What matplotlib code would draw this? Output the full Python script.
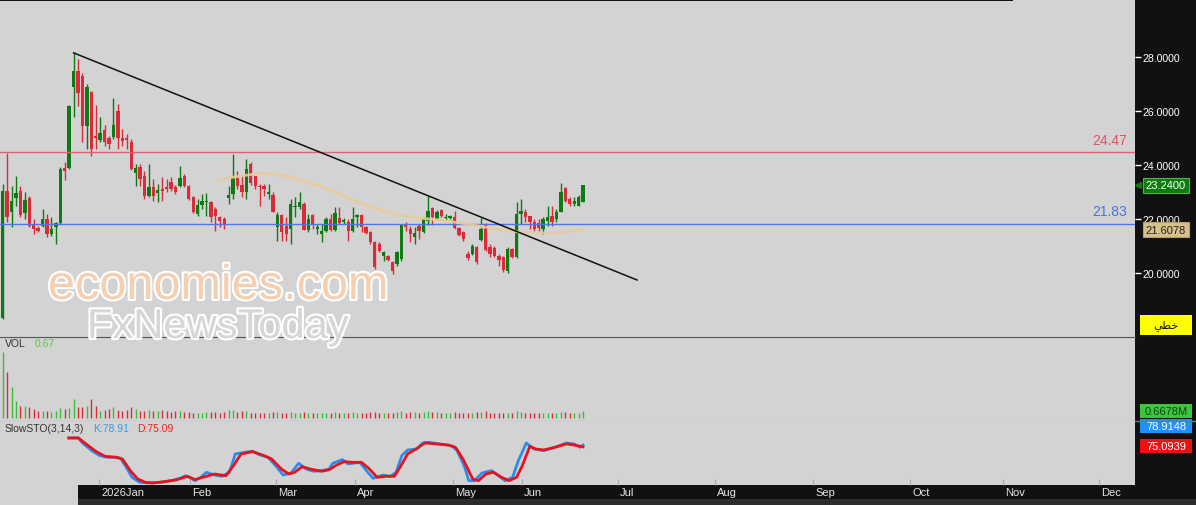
import numpy as np
import matplotlib
matplotlib.use('Agg')
import matplotlib.pyplot as plt
from matplotlib.patches import Rectangle
from matplotlib.transforms import blended_transform_factory
import matplotlib.patheffects as pe

plt.rcParams['font.family'] = ['Liberation Sans', 'DejaVu Sans']

W, H = 1196, 506

# daily candles
opens = [18.35, 23.04, 22.26, 22.78, 23.04, 22.22, 22.78, 21.78, 21.67, 21.74,
         22.00, 21.44, 21.70, 21.85, 23.89, 23.89, 26.89, 27.48, 27.30, 25.44,
         26.70, 25.07, 24.93, 25.30, 25.00, 25.04, 26.00, 25.00, 25.00, 24.85,
         23.70, 23.93, 23.59, 22.85, 23.19, 22.96, 23.11, 23.19, 23.37, 23.19,
         23.22, 23.59, 23.22, 22.81, 22.19, 22.52, 22.63, 22.63, 22.37, 22.07,
         22.00, 22.78, 22.93, 23.52, 23.26, 23.00, 24.04, 23.59, 23.22, 23.22,
         22.93, 22.89, 21.70, 22.15, 21.74, 21.63, 22.44, 22.44, 22.56, 21.59,
         22.15, 21.63, 21.44, 21.56, 22.00, 21.59, 22.04, 21.89, 21.89, 21.56,
         22.07, 22.15, 21.70, 21.52, 21.15, 21.07, 20.63, 20.63, 20.41, 20.33,
         20.52, 21.81, 21.63, 21.33, 21.74, 21.52, 21.93, 22.41, 22.00, 22.33,
         22.04, 22.04, 22.07, 21.67, 21.52, 20.70, 20.70, 20.96, 21.22, 21.81,
         20.96, 20.93, 20.63, 20.59, 20.07, 20.89, 20.59, 22.19, 22.26, 22.11,
         21.89, 21.85, 21.63, 21.93, 22.11, 22.00, 22.26, 23.15, 22.74, 22.56,
         22.48, 22.63]
highs = [23.30, 24.44, 23.22, 23.59, 23.22, 23.00, 22.85, 22.00, 21.74, 22.37,
         22.19, 22.07, 21.89, 23.93, 24.11, 26.22, 28.19, 27.93, 27.40, 27.00,
         26.74, 26.22, 25.78, 25.48, 25.07, 26.48, 26.26, 25.33, 25.15, 24.96,
         24.04, 24.04, 23.78, 24.04, 23.48, 23.30, 23.56, 23.48, 23.56, 23.26,
         23.96, 23.67, 23.26, 22.85, 22.74, 22.93, 22.96, 22.67, 22.44, 22.11,
         22.07, 23.22, 24.41, 23.78, 23.59, 24.22, 24.11, 23.59, 23.30, 23.30,
         23.30, 23.00, 22.26, 22.19, 22.07, 22.74, 22.81, 23.00, 22.63, 22.19,
         22.19, 21.81, 21.81, 22.07, 22.19, 22.44, 22.44, 22.04, 22.00, 22.44,
         22.19, 22.19, 21.74, 21.56, 21.19, 21.15, 20.81, 20.67, 20.44, 20.81,
         21.81, 21.89, 21.74, 21.70, 21.81, 22.07, 22.85, 22.44, 22.33, 22.37,
         22.19, 22.15, 22.30, 21.70, 21.56, 20.81, 21.07, 21.00, 22.04, 21.85,
         21.07, 21.00, 20.70, 20.63, 20.96, 20.93, 22.63, 22.74, 22.37, 22.11,
         22.00, 22.00, 22.07, 22.48, 22.48, 22.37, 23.33, 23.19, 22.81, 22.81,
         22.89, 23.24]
lows = [18.30, 21.89, 21.70, 22.48, 22.07, 22.00, 21.70, 21.44, 21.52, 21.70,
        21.33, 21.37, 21.07, 21.81, 23.44, 23.85, 25.78, 26.19, 24.85, 24.59,
        24.33, 24.59, 24.85, 24.70, 24.59, 24.96, 24.59, 24.70, 24.59, 23.81,
        23.22, 23.22, 22.74, 22.81, 22.67, 22.63, 22.67, 23.00, 23.04, 22.93,
        23.19, 23.19, 22.70, 22.22, 22.11, 22.37, 22.11, 21.89, 21.56, 21.70,
        21.63, 22.56, 22.74, 23.11, 22.81, 22.74, 23.26, 23.11, 22.48, 22.85,
        22.74, 22.26, 21.19, 21.19, 21.19, 21.07, 22.07, 22.37, 21.59, 21.52,
        21.63, 21.44, 21.15, 21.52, 21.56, 21.56, 21.81, 21.81, 21.19, 21.52,
        21.70, 21.52, 21.44, 21.07, 20.15, 20.78, 20.44, 20.44, 19.96, 20.26,
        20.44, 21.56, 21.15, 21.07, 21.26, 21.48, 21.78, 21.78, 21.96, 22.07,
        21.96, 22.00, 21.63, 21.37, 21.19, 20.48, 20.67, 20.33, 21.19, 20.81,
        20.59, 20.59, 20.26, 20.04, 20.00, 20.56, 20.56, 21.81, 21.89, 21.63,
        21.52, 21.56, 21.44, 21.74, 21.74, 21.89, 22.26, 22.63, 22.48, 22.48,
        22.48, 22.63]
closes = [23.05, 22.07, 22.67, 22.96, 22.15, 22.70, 21.74, 21.63, 21.56, 22.00,
          21.44, 21.63, 21.85, 23.85, 23.78, 26.19, 27.48, 26.67, 25.44, 26.89,
          24.59, 25.00, 25.19, 24.85, 24.78, 25.48, 25.00, 24.89, 24.93, 23.85,
          23.89, 23.48, 22.85, 23.19, 22.85, 23.07, 23.04, 23.11, 23.11, 23.00,
          23.52, 23.22, 22.74, 22.26, 22.52, 22.67, 22.67, 22.07, 22.11, 21.93,
          21.81, 22.89, 23.56, 23.22, 23.00, 23.85, 23.33, 23.22, 23.19, 23.11,
          23.00, 22.26, 22.15, 21.52, 21.44, 22.56, 22.48, 22.63, 21.59, 22.00,
          21.81, 21.70, 21.56, 22.00, 21.59, 22.22, 21.85, 21.96, 21.56, 22.00,
          22.15, 21.70, 21.48, 21.15, 20.22, 20.81, 20.78, 20.48, 20.07, 20.78,
          21.78, 21.70, 21.44, 21.48, 21.56, 22.04, 22.30, 22.07, 22.26, 22.11,
          22.07, 22.11, 21.67, 21.41, 21.26, 20.56, 21.00, 20.41, 21.63, 20.85,
          20.70, 20.63, 20.48, 20.11, 20.89, 20.59, 22.19, 22.30, 22.07, 21.89,
          21.63, 21.67, 22.00, 22.07, 21.89, 22.26, 23.00, 22.67, 22.56, 22.67,
          22.81, 23.24]
# volume in millions
volume = [6.3, 4.4, 2.95, 1.6, 1.15, 1.15, 1.05, 0.85, 0.67, 0.67,
          0.67, 0.57, 0.67, 0.95, 0.85, 0.95, 1.8, 1.05, 1.05, 1.15,
          1.8, 1.15, 0.67, 0.76, 0.85, 1.05, 0.76, 0.67, 0.76, 1.05,
          0.85, 0.67, 0.67, 0.76, 0.67, 0.67, 0.76, 0.67, 0.57, 0.67,
          0.67, 0.57, 0.57, 0.48, 0.48, 0.48, 0.57, 0.57, 0.57, 0.48,
          0.57, 0.76, 0.76, 0.57, 0.67, 0.67, 0.48, 0.48, 0.48, 0.48,
          0.48, 0.57, 0.57, 0.48, 0.48, 0.57, 0.48, 0.48, 0.57, 0.48,
          0.48, 0.48, 0.48, 0.48, 0.48, 0.57, 0.48, 0.48, 0.48, 0.57,
          0.48, 0.48, 0.48, 0.57, 0.57, 0.48, 0.48, 0.48, 0.48, 0.57,
          0.67, 0.48, 0.57, 0.57, 0.48, 0.57, 0.67, 0.57, 0.57, 0.48,
          0.48, 0.48, 0.57, 0.48, 0.48, 0.48, 0.48, 0.57, 0.57, 0.67,
          0.48, 0.48, 0.48, 0.48, 0.48, 0.48, 0.67, 0.57, 0.48, 0.48,
          0.48, 0.48, 0.48, 0.48, 0.48, 0.48, 0.57, 0.57, 0.48, 0.48,
          0.48, 0.67]

# moving average (read at a few bars)
ma_idx = [48.6, 53.6, 58.5, 62.6, 64.9, 72.3, 80.0, 87.4, 93.5, 98.7, 105.0, 112.7, 116.3, 122.4, 126.9, 131]
ma_val = [23.44, 23.59, 23.70, 23.63, 23.56, 23.19, 22.63, 22.22, 22.04, 21.96, 21.81, 21.59, 21.52, 21.48, 21.52, 21.61]

# slow stochastic
k_idx = [14.9, 17.1, 18.0, 20.1, 21.9, 23.6, 25.3, 26.6, 27.9, 29.2, 30.9, 33.1, 35.7, 38.3, 40.0, 41.3,
         42.6, 43.4, 44.7, 46.0, 47.8, 49.5, 51.2, 52.5, 54.7, 56.4, 58.1, 59.9, 61.6, 63.3, 65.1, 66.8,
         68.5, 70.2, 72.0, 73.7, 74.5, 76.7, 78.0, 80.6, 82.3, 83.6, 85.8, 87.5, 88.8, 90.1, 91.4, 93.5,
         94.8, 96.1, 98.7, 101.3, 102.6, 104.3, 105.2, 106.5, 108.2, 110.4, 111.7, 113.4, 115.1, 116.4,
         118.2, 119.9, 122.1, 124.7, 127.2, 129.0, 130.3, 131.0]
k_val = [93.7, 93.7, 83.3, 67.3, 56.9, 53.5, 53.5, 51.4, 32.6, 11.8, 1.4, 0.0, 1.4, 5.5, 9.7, 15.2,
         9.7, 4.8, 11.8, 22.2, 16.6, 13.9, 22.2, 60.4, 63.9, 66.0, 58.3, 53.5, 36.1, 16.6, 20.8, 41.0,
         29.1, 24.3, 25.7, 29.1, 41.0, 48.6, 39.6, 43.0, 23.6, 9.7, 16.6, 13.9, 22.2, 56.9, 68.7, 70.8,
         83.3, 84.7, 81.2, 77.7, 67.3, 32.6, 4.8, 4.8, 20.8, 25.7, 16.6, 4.8, 11.8, 46.5,
         83.3, 70.8, 67.3, 74.3, 83.3, 81.2, 74.3, 78.9]
d_idx = [14.9, 17.1, 18.8, 21.0, 23.1, 25.7, 27.0, 28.8, 30.5, 32.2, 33.9, 36.5, 39.1, 41.7, 43.4, 45.2,
         47.8, 50.4, 52.1, 53.8, 56.4, 59.0, 60.7, 62.9, 64.6, 65.9, 67.6, 69.4, 72.0, 73.7, 75.4, 77.1,
         78.9, 81.0, 82.8, 84.5, 86.6, 88.4, 89.7, 91.4, 93.1, 95.3, 97.9, 100.5, 102.2, 103.9, 106.1,
         107.4, 109.1, 110.8, 112.6, 114.3, 116.0, 117.3, 119.0, 120.3, 122.1, 124.7, 127.2, 129.0, 130.3, 131.0]
d_val = [93.7, 93.7, 81.2, 66.0, 55.5, 53.5, 50.0, 25.7, 8.3, 1.4, 0.0, 2.7, 6.2, 13.9, 6.9, 11.8,
         18.7, 15.2, 36.1, 60.4, 65.3, 56.9, 50.0, 29.1, 18.7, 22.2, 34.0, 29.1, 24.3, 27.7, 37.5, 44.4,
         43.0, 43.0, 29.1, 11.8, 13.9, 13.9, 32.6, 60.4, 69.4, 83.3, 81.2, 79.1, 74.3, 50.0, 8.3,
         4.8, 18.7, 22.2, 11.8, 4.8, 11.8, 36.1, 76.4, 70.8, 68.7, 74.3, 81.2, 79.1, 76.4, 75.1]

trend_idx = [16, 143.2]
trend_val = [28.15, 19.74]
resist = 24.47
support = 21.83
last_close = 23.24
last_ma = 21.6078

month_labels = ['2026Jan', 'Feb', 'Mar', 'Apr', 'May', 'Jun', 'Jul', 'Aug', 'Sep', 'Oct', 'Nov', 'Dec']
month_pos = [21.85, 42.3, 61.6, 79.5, 101.6, 117.2, 138.9, 160.8, 182.9, 204.8, 225.8, 247.5]

BG = '#d3d3d3'
GREEN = '#0e7a14'
RED = '#d92b3a'


def box(x0, y0, x1, y1):
    return [x0 / W, 1 - y1 / H, (x1 - x0) / W, (y1 - y0) / H]


def fx(x):
    return x / W


def fy(y):
    return 1 - y / H


fig = plt.figure(figsize=(W / 100, H / 100), dpi=100, facecolor='#111111')

xlim = (-2.7 / 4.43, (1135 - 2.7) / 4.43)
n = len(opens)
idx = np.arange(n)
o = np.array(opens); c = np.array(closes)
cols = np.where(c >= o, GREEN, RED)

# price panel
ax1 = fig.add_axes(box(0, 2, 1135, 338))
ax1.set_facecolor(BG)
ax1.vlines(idx, lows, highs, colors=cols, lw=1)
ax1.bar(idx, np.maximum(np.abs(c - o), 0.04), bottom=np.minimum(o, c), width=0.75, color=cols, linewidth=0)
ax1.axhline(resist, color='#e0606c', lw=1)
ax1.axhline(support, color='#4a78e6', lw=1)
ax1.plot(ma_idx, ma_val, color='#e8cb98', lw=2, alpha=0.9)
ax1.plot(trend_idx, trend_val, color='#111111', lw=1.1)
ax1.set_xlim(xlim)
ax1.set_ylim(17.63, 30.07)
for s in ax1.spines.values():
    s.set_visible(False)
ax1.tick_params(axis='x', bottom=False, labelbottom=False)
ax1.yaxis.tick_right()
ax1.set_yticks([20, 22, 24, 26, 28])
ax1.set_yticklabels(['{:.4f}'.format(v) for v in [20, 22, 24, 26, 28]])
ax1.tick_params(axis='y', colors='white', length=4, width=1, pad=1.5, labelsize=7.6)
ax1.annotate('{:.2f}'.format(resist), xy=(0.993, resist), xycoords=('axes fraction', 'data'),
             xytext=(0, 4), textcoords='offset points', ha='right', va='bottom',
             color='#e0505e', fontsize=10)
ax1.annotate('{:.2f}'.format(support), xy=(0.993, support), xycoords=('axes fraction', 'data'),
             xytext=(0, 4), textcoords='offset points', ha='right', va='bottom',
             color='#4a72e0', fontsize=10)

# volume panel
ax2 = fig.add_axes(box(0, 338, 1135, 422))
ax2.set_facecolor(BG)
ax2.vlines(idx, 0, volume, colors=np.where(c >= o, '#3dbb3d', RED), lw=1)
ax2.set_xlim(xlim)
ax2.set_ylim(-0.29, 7.71)
ax2.set_xticks([]); ax2.set_yticks([])
for k in ['left', 'right']:
    ax2.spines[k].set_visible(False)
ax2.spines['top'].set_color('#555555')
ax2.spines['bottom'].set_color('#8a8a8a')

# stochastic panel
ax3 = fig.add_axes(box(0, 422, 1135, 486))
ax3.set_facecolor(BG)
ax3.plot(k_idx, k_val, color='#2a8cf0', lw=2)
ax3.plot(d_idx, d_val, color='#e8121c', lw=2)
ax3.set_xlim(xlim)
ax3.set_ylim(-4.2, 129)
ax3.set_yticks([])
ax3.set_xticks(month_pos)
ax3.tick_params(axis='x', direction='in', length=4, color='#a8a8a8', labelbottom=False)
for s in ax3.spines.values():
    s.set_visible(False)

# bottom strip with month names
fig.add_artist(Rectangle((0, fy(506)), fx(78), fy(486) - fy(506), transform=fig.transFigure,
                         color=BG, lw=0))
fig.add_artist(Rectangle((fx(78), fy(506)), 1 - fx(78), fy(500) - fy(506), transform=fig.transFigure,
                         color='#2c2c2c', lw=0))
fig.add_artist(Rectangle((fx(1013), fy(2)), fx(1135) - fx(1013), fy(0) - fy(2), transform=fig.transFigure,
                         color=BG, lw=0))
tr = blended_transform_factory(ax3.transData, fig.transFigure)
for lab, pos in zip(month_labels, month_pos):
    fig.text(pos + 0.5, fy(493), lab, transform=tr, color='#e6e6e6', fontsize=8, ha='left', va='center')

# panel titles
fig.text(fx(5), fy(344), 'VOL', color='#333333', fontsize=7.5, va='center')
fig.text(fx(35), fy(344), '0.67', color='#5cc83c', fontsize=7.5, va='center')
fig.text(fx(5), fy(429), 'SlowSTO(3,14,3)', color='#333333', fontsize=7.5, va='center')
fig.text(fx(93), fy(429), 'K:78.91', color='#3399ee', fontsize=7.5, va='center')
fig.text(fx(137), fy(429), 'D:75.09', color='#ee2222', fontsize=7.5, va='center')

# watermark
fig.text(fx(48), fy(300), 'economies.com', color='#f6cfb0', fontsize=35, va='baseline',
         path_effects=[pe.withStroke(linewidth=3, foreground='white')])
fig.text(fx(87), fy(339), 'FxNewsToday', color='#d6d6d6', fontsize=30, va='baseline',
         path_effects=[pe.withStroke(linewidth=3, foreground='white')])

# right scale tags
trp = blended_transform_factory(fig.transFigure, ax1.transData)
ax1.text(fx(1166), last_close, '{:.4f}'.format(last_close), transform=trp, ha='center', va='center',
         color='white', fontsize=8, clip_on=False,
         bbox=dict(boxstyle='square,pad=0.25', fc='#0a7d0a', ec='#55b055', lw=0.8))
ax1.plot([fx(1138)], [last_close], marker='<', ms=5, color='#0a7d0a', transform=trp, clip_on=False)
ax1.text(fx(1166), last_ma, '{:.4f}'.format(last_ma), transform=trp, ha='center', va='center',
         color='#222222', fontsize=8, clip_on=False,
         bbox=dict(boxstyle='square,pad=0.25', fc='#d8c089', ec='#b89f6a', lw=0.8))


def tag(y0, y1, face, txt, tcol):
    fig.add_artist(Rectangle((fx(1140), fy(y1)), fx(1192) - fx(1140), fy(y0) - fy(y1),
                             transform=fig.transFigure, fc=face, ec='none'))
    fig.text(fx(1166), fy((y0 + y1) / 2), txt, color=tcol, fontsize=8, ha='center', va='center')


tag(316, 336, '#ffff00', '\ufef2\ufec4\ufea7', '#111111')
tag(405, 419, '#3dc63d', '0.6678M', '#114411')
tag(420, 434, '#1e90ff', '78.9148', 'white')
tag(440, 454, '#ee1111', '75.0939', 'white')
fig.add_artist(plt.Line2D([fx(1135), 1], [fy(422), fy(422)], transform=fig.transFigure,
                          color='#777777', lw=1))

fig.savefig('out.png', dpi=100, facecolor=fig.get_facecolor())
